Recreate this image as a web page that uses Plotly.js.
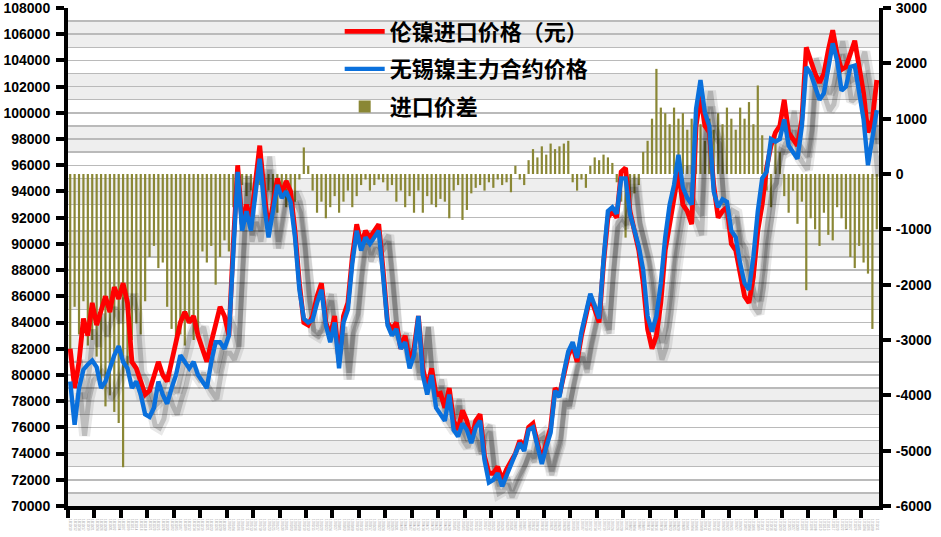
<!DOCTYPE html>
<html>
<head>
<meta charset="utf-8">
<script src="https://cdn.plot.ly/plotly-3.0.1.min.js"></script>
<style>html,body{margin:0;padding:0;background:#fff;}#chart{width:941px;height:537px;}</style>
</head>
<body>
<div id="chart"></div>
<script>
// ---- data ----
const dates = [
'16/10/10','16/10/12','16/10/14','16/10/17','16/10/19','16/10/21','16/10/24','16/10/26','16/10/28','16/10/31','16/11/02','16/11/04',
'16/11/07','16/11/09','16/11/11','16/11/14','16/11/16','16/11/18','16/11/21','16/11/23','16/11/25','16/11/28','16/11/30','16/12/02',
'16/12/05','16/12/07','16/12/09','16/12/12','16/12/14','16/12/16','16/12/19','16/12/21','16/12/23','16/12/26','16/12/28','16/12/30',
'17/01/02','17/01/04','17/01/06','17/01/09','17/01/11','17/01/13','17/01/16','17/01/18','17/01/20','17/01/23','17/01/25','17/01/27',
'17/01/30','17/02/01','17/02/03','17/02/06','17/02/08','17/02/10','17/02/13','17/02/15','17/02/17','17/02/20','17/02/22','17/02/24',
'17/02/27','17/03/01','17/03/03','17/03/06','17/03/08','17/03/10','17/03/13','17/03/15','17/03/17','17/03/20','17/03/22','17/03/24',
'17/03/27','17/03/29','17/03/31','17/04/03','17/04/05','17/04/07','17/04/10','17/04/12','17/04/14','17/04/17','17/04/19','17/04/21',
'17/04/24','17/04/26','17/04/28','17/05/01','17/05/03','17/05/05','17/05/08','17/05/10','17/05/12','17/05/15','17/05/17','17/05/19',
'17/05/22','17/05/24','17/05/26','17/05/29','17/05/31','17/06/02','17/06/05','17/06/07','17/06/09','17/06/12','17/06/14','17/06/16',
'17/06/19','17/06/21','17/06/23','17/06/26','17/06/28','17/06/30','17/07/03','17/07/05','17/07/07','17/07/10','17/07/12','17/07/14',
'17/07/17','17/07/19','17/07/21','17/07/24','17/07/26','17/07/28','17/07/31','17/08/02','17/08/04','17/08/07','17/08/09','17/08/11',
'17/08/14','17/08/16','17/08/18','17/08/21','17/08/23','17/08/25','17/08/28','17/08/30','17/09/01','17/09/04','17/09/06','17/09/08',
'17/09/11','17/09/13','17/09/15','17/09/18','17/09/20','17/09/22','17/09/25','17/09/27','17/09/29','17/10/02','17/10/04','17/10/06',
'17/10/09','17/10/11','17/10/13','17/10/16','17/10/18','17/10/20','17/10/23','17/10/25','17/10/27','17/10/30','17/11/01','17/11/03',
'17/11/06','17/11/08','17/11/10','17/11/13','17/11/15','17/11/17','17/11/20','17/11/22','17/11/24','17/11/27','17/11/29','17/12/01',
'17/12/04','17/12/06','17/12/08','17/12/11'
];

// 伦镍进口价格（元）
const lmeImportPrice = [
82000,79000,81000,84300,83000,85500,83800,85000,86000,84800,86700,85800,87000,85500,81000,80500,79500,78500,78800,80000,
81000,80000,79500,81000,82500,84000,84800,84000,84500,83000,82000,81000,82500,84000,85200,84500,83000,90000,96000,91500,
93000,91800,94500,97500,94000,91000,93000,95000,93800,94800,94000,91000,87000,84000,83800,84500,86000,87000,84000,83000,
84500,81000,84500,85500,89000,91500,90000,91000,90500,91000,91500,88000,84000,83500,84000,82000,83000,81000,82000,84500,
80500,79000,80500,78500,78600,77500,79000,76500,75800,77300,76500,75000,76500,77000,73800,72500,72500,73000,72000,72800,
73500,74000,75000,74500,76000,76300,74800,73500,74800,76000,79000,78500,80000,81500,82200,81000,83000,84500,86000,85000,
84000,88500,92000,92500,92000,95500,95800,92500,91000,89500,87000,83500,82000,83000,85500,89500,91500,93500,95500,93000,
92500,91500,99000,101300,99000,98500,94500,92000,92500,92800,90000,89500,87500,86000,85500,87500,91000,93000,95800,97500,
98500,99000,101000,98500,98000,97500,99500,105000,104000,103000,102300,103000,104800,106300,104500,103300,103500,104500,105500,103500,
101500,98500,99500,102500
];

// 无锡镍主力合约价格
const wuxiMainPrice = [
79500,76200,79000,80400,80800,81100,80600,79000,79500,80500,81500,82200,81000,80500,79000,79500,78500,77000,76800,77500,
79500,78500,77800,79000,80000,81500,81000,80500,81000,80000,79500,79000,81000,82500,82500,82000,83000,89000,95500,91000,
92500,91000,94000,96500,93000,90500,92500,94500,93500,94000,93200,90500,86500,84300,84000,84200,85500,86500,83800,82500,
84000,80500,84000,85000,88500,91000,89500,90500,90000,90500,91000,87500,83800,83000,83500,82000,82500,80500,81500,84500,
80000,78500,80000,77500,77000,76500,78500,75800,75300,76300,75800,74800,76000,76500,73500,71800,72000,72500,71500,72300,
73200,73800,74800,74200,75800,76000,74500,73200,74500,75600,78800,78300,80200,81800,82500,81300,83300,84800,86200,85300,
84300,88800,92500,92800,92300,95000,95000,92300,91000,89800,88000,84500,83300,84500,87000,90500,93000,94500,96800,94300,
93500,93000,100300,102500,100000,99000,94000,92800,93400,93200,91000,90500,88500,87000,86500,89000,92500,95000,95500,98000,
97800,98000,99500,97500,97000,96500,99000,103500,103000,102000,101000,101500,103600,105300,104000,101700,102000,103500,103600,101500,
99500,96000,98300,100200
];

// 进口价差
const importSpread = [
-3200,-2400,-2900,-2300,-3100,-3000,-3300,-3800,-4200,-4000,-4300,-4500,-5300,-3600,-3000,-2700,-2900,-2300,-1500,-1300,
-1700,-1600,-2400,-2800,-3000,-2900,-3100,-2700,-3000,-3000,-1400,-1600,-1300,-2000,-1500,-1200,-1400,-600,-300,-200,
-400,-300,-500,-200,-600,-300,-500,-700,-400,-600,-300,-500,-100,480,150,-300,-700,-500,-800,-600,
-400,-700,-500,-300,-600,-400,-200,-100,-300,-200,-100,-150,-300,-200,-500,-300,-600,-400,-700,-300,
-700,-400,-550,-600,-450,-500,-800,-300,-200,-830,-650,-350,-250,-200,-300,-150,-250,-100,-200,-150,
-330,150,-100,-200,250,450,300,500,350,550,450,500,550,600,-150,-300,-100,-250,150,300,
250,350,300,200,-150,-500,-1150,-600,-350,-200,400,600,1000,1900,1200,1100,900,1200,1000,1100,
800,1000,700,900,600,1000,800,1100,900,1200,1000,800,1200,1000,1300,900,1600,700,-300,-600,
700,400,-400,-700,-300,-900,-500,-2100,-800,-1000,-1300,-700,-1100,-1200,-600,-800,-1000,-1500,-1700,-1300,
-1600,-1800,-2800,-1000
];

const leftTickValues = [70000,72000,74000,76000,78000,80000,82000,84000,86000,88000,90000,92000,94000,96000,98000,100000,102000,104000,106000,108000];
const leftTickLabels = ['70000','72000','74000','76000','78000','80000','82000','84000','86000','88000','90000','92000','94000','96000','98000','100000','102000','104000','106000','108000'];
const rightTickValues = [-6000,-5000,-4000,-3000,-2000,-1000,0,1000,2000,3000];
const rightTickLabels = ['-6000','-5000','-4000','-3000','-2000','-1000','0','1000','2000','3000'];

// ---- chart ----
const N = dates.length;
const idx = dates.map((d, i) => i);
const leftRange = [70000, 108000];
const rightRange = [-6000, 3000];
const plotW = 941 - 68 - 62, plotH = 537 - 8 - 31;
// drop shadow: offset in pixels converted to axis units
const shX = 10 / (plotW / N);
const shY = 11 / (plotH / (leftRange[1] - leftRange[0]));

const tickFont = {family: 'Arial, "Liberation Sans", sans-serif', size: 14, color: '#000', weight: 'bold'};

const traces = [
  {type: 'scatter', mode: 'lines', name: '伦镍进口价格（元）', x: idx, y: lmeImportPrice,
   xaxis: 'x3', yaxis: 'y3', line: {color: '#ff0000', width: 4.8}, legendgroup: 'a', hoverinfo: 'skip'},
  {type: 'scatter', mode: 'lines', name: '无锡镍主力合约价格', x: idx, y: wuxiMainPrice,
   xaxis: 'x3', yaxis: 'y3', line: {color: '#0a70dc', width: 4.4}, legendgroup: 'b', hoverinfo: 'skip'},
  {type: 'bar', name: '进口价差', x: idx, y: importSpread, xaxis: 'x', yaxis: 'y',
   width: 0.5, marker: {color: '#8a8735', line: {width: 0}}, legendgroup: 'c', hoverinfo: 'skip'},
  // shadows
  {type: 'scatter', mode: 'lines', x: idx, y: lmeImportPrice, xaxis: 'x2', yaxis: 'y2', showlegend: false,
   line: {color: 'rgba(0,0,0,0.09)', width: 11}, hoverinfo: 'skip'},
  {type: 'scatter', mode: 'lines', x: idx, y: wuxiMainPrice, xaxis: 'x2', yaxis: 'y2', showlegend: false,
   line: {color: 'rgba(0,0,0,0.09)', width: 11}, hoverinfo: 'skip'},
  {type: 'scatter', mode: 'lines', x: idx, y: lmeImportPrice, xaxis: 'x2', yaxis: 'y2', showlegend: false,
   line: {color: 'rgba(0,0,0,0.18)', width: 5}, hoverinfo: 'skip'},
  {type: 'scatter', mode: 'lines', x: idx, y: wuxiMainPrice, xaxis: 'x2', yaxis: 'y2', showlegend: false,
   line: {color: 'rgba(0,0,0,0.18)', width: 5}, hoverinfo: 'skip'}
];

// alternating background bands (styling only)
const shapes = [];
for (let v = leftRange[0] - 1000; v < leftRange[1]; v += 4000) {
  shapes.push({type: 'rect', xref: 'paper', yref: 'y3', x0: 0, x1: 1,
    y0: Math.max(v, leftRange[0]), y1: Math.min(v + 2000, leftRange[1]),
    fillcolor: '#eeeeee', line: {width: 0}, layer: 'below'});
}

const layout = {
  width: 941, height: 537,
  margin: {l: 68, r: 62, t: 8, b: 31, pad: 0},
  paper_bgcolor: '#ffffff', plot_bgcolor: '#ffffff',
  showlegend: true,
  legend: {x: 0.335, y: 0.995, xanchor: 'left', yanchor: 'top', bgcolor: 'rgba(0,0,0,0)',
    font: {family: '"Noto Sans CJK SC", sans-serif', size: 22, color: '#000', weight: 'bold'},
    traceorder: 'grouped', tracegroupgap: 6, itemwidth: 40},
  xaxis: {range: [-0.5, N - 0.5], showline: true, linecolor: '#000', linewidth: 4,
    ticks: 'outside', tickmode: 'linear', tick0: -0.5, dtick: 6, ticklen: 8, tickwidth: 4, tickcolor: '#000',
    showticklabels: false, showgrid: false, zeroline: false},
  yaxis: {range: rightRange, side: 'right', tickmode: 'array', tickvals: rightTickValues, ticktext: rightTickLabels,
    showline: true, linecolor: '#000', linewidth: 4, ticks: 'outside', ticklen: 8, tickwidth: 4, tickcolor: '#000',
    tickfont: tickFont, showgrid: false, zeroline: false, ticklabelstandoff: 2, ticklabeloverflow: 'allow'},
  xaxis2: {overlaying: 'x', range: [-0.5 - shX, N - 0.5 - shX], visible: false},
  yaxis2: {overlaying: 'y', range: [leftRange[0] + shY, leftRange[1] + shY], visible: false},
  xaxis3: {overlaying: 'x', anchor: 'y3', range: [-0.5, N - 0.5], tickmode: 'array', tickvals: idx, ticktext: dates,
    ticks: '', showline: false, showgrid: false, zeroline: false, tickangle: 90,
    tickfont: {family: 'Arial, "Liberation Sans", sans-serif', size: 3, color: '#9a9a9a'}, ticklabelstandoff: 12},
  yaxis3: {overlaying: 'y', anchor: 'x3', side: 'left', range: leftRange, tickmode: 'array',
    tickvals: leftTickValues, ticktext: leftTickLabels, ticklabeloverflow: 'allow',
    showline: true, linecolor: '#000', linewidth: 4, ticks: 'outside', ticklen: 8, tickwidth: 4, tickcolor: '#000',
    tickfont: tickFont, showgrid: true, gridcolor: '#bababa', gridwidth: 1.5, zeroline: false, ticklabelstandoff: 3,
    minor: {tickmode: 'linear', tick0: 71000, dtick: 2000, showgrid: true, gridcolor: '#bababa', gridwidth: 1.5, ticks: ''}},
  shapes: shapes
};

Plotly.newPlot('chart', traces, layout, {staticPlot: true, displayModeBar: false});
</script>
</body>
</html>
